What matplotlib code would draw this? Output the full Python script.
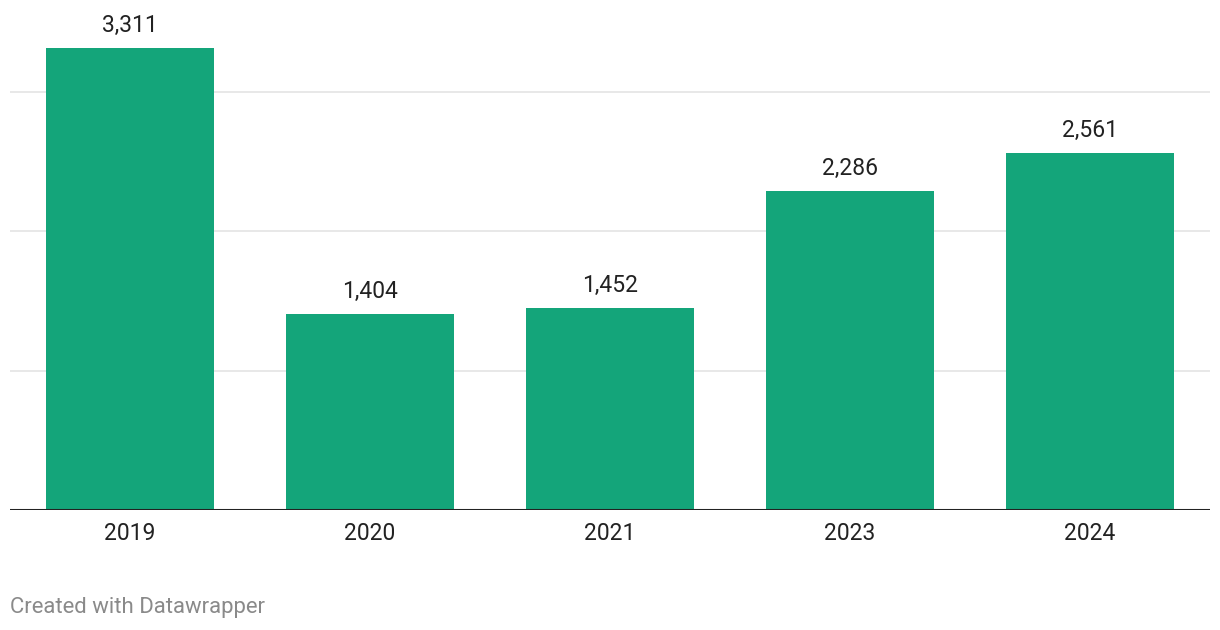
import matplotlib
matplotlib.use("Agg")
import matplotlib.pyplot as plt

years = ["2019", "2020", "2021", "2023", "2024"]
values = [3311, 1404, 1452, 2286, 2561]
grid_values = [1000, 2000, 3000]

plt.rcParams['font.family'] = ['Roboto', 'DejaVu Sans']

fig = plt.figure(figsize=(12.2, 6.3), dpi=100)
ax = fig.add_axes([10/1220, 120/630, 1200/1220, 510/630])

x = list(range(len(years)))
ax.bar(x, values, width=0.7, color="#14a57a", zorder=2)
ax.set_xlim(-0.5, len(years) - 0.5)
ax.set_ylim(0, 510/0.1394)

for g in grid_values:
    ax.axhline(g, color="#e4e4e4", linewidth=1.2, zorder=1)
ax.axhline(0, color="#222222", linewidth=2.2, zorder=3)

for xi, v in zip(x, values):
    ax.annotate(f"{v:,}", (xi, v), xytext=(0, 8), textcoords="offset points",
                ha="center", va="bottom", fontsize=16.5, color="#222222")

for s in ax.spines.values():
    s.set_visible(False)
ax.set_yticks([])
ax.set_xticks(x)
ax.set_xticklabels(years, fontsize=16.5, color="#222222")
ax.tick_params(axis="x", length=0, pad=9)

fig.text(10/1220, 1 - 607/630, "Created with Datawrapper", fontsize=15.9,
         color="#8a8a8a", ha="left", va="center")

fig.savefig("out.png", dpi=100)
